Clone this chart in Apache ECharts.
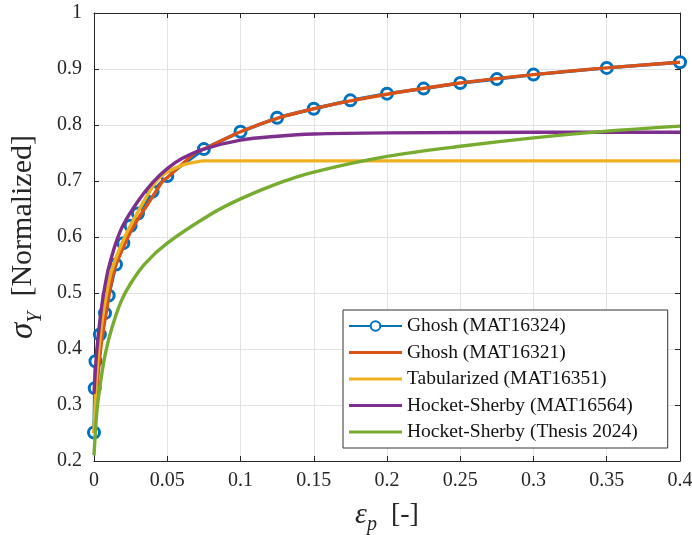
<!DOCTYPE html>
<html>
<head>
<meta charset="utf-8">
<script src="https://cdn.jsdelivr.net/npm/echarts@6/dist/echarts.min.js"></script>
<style>html,body{margin:0;padding:0;background:#fff;}#c{width:692px;height:535px;}</style>
</head>
<body>
<div id="c"></div>
<script>
// Ghosh (MAT16324) markers
const ghoshMarkX = [0, 0.0005, 0.001, 0.004, 0.0075, 0.01, 0.015, 0.02, 0.025, 0.03, 0.04, 0.05, 0.075, 0.1, 0.125, 0.15, 0.175, 0.2, 0.225, 0.25, 0.275, 0.3, 0.35, 0.4];
const ghoshMarkY = [0.251, 0.33, 0.378, 0.426, 0.464, 0.4955, 0.551, 0.589, 0.62, 0.642, 0.681, 0.709, 0.757, 0.788, 0.813, 0.829, 0.844, 0.856, 0.865, 0.875, 0.882, 0.890, 0.902, 0.912];
// Ghosh (MAT16321)
const ghoshLineX = [0, 0.002, 0.005, 0.008, 0.0137, 0.0232, 0.03, 0.04, 0.047, 0.05, 0.069, 0.075, 0.1, 0.125, 0.15, 0.175, 0.2, 0.25, 0.3, 0.35, 0.4];
const ghoshLineY = [0.25, 0.33, 0.41, 0.46, 0.54, 0.60, 0.632, 0.672, 0.70, 0.706, 0.75, 0.757, 0.788, 0.812, 0.829, 0.843, 0.855, 0.875, 0.890, 0.902, 0.912];
// Tabularized (MAT16351)
const tabX = [0, 0.002, 0.005, 0.008, 0.012, 0.021, 0.03, 0.0426, 0.05, 0.06, 0.0688, 0.075, 0.1, 0.2, 0.3, 0.4];
const tabY = [0.25, 0.36, 0.44, 0.49, 0.54, 0.60, 0.645, 0.70, 0.716, 0.728, 0.7336, 0.736, 0.736, 0.736, 0.736, 0.736];
// Hocket-Sherby (MAT16564)
const hsMatX = [0, 0.001, 0.002, 0.004, 0.006, 0.008, 0.01, 0.015, 0.02, 0.03, 0.04, 0.05, 0.06, 0.075, 0.1, 0.125, 0.15, 0.2, 0.3, 0.4];
const hsMatY = [0.32, 0.365, 0.40, 0.45, 0.49, 0.52, 0.545, 0.59, 0.622, 0.664, 0.697, 0.722, 0.740, 0.757, 0.773, 0.780, 0.784, 0.786, 0.787, 0.787];
// Hocket-Sherby (Thesis 2024)
const hsThX = [0, 0.002, 0.005, 0.008, 0.0125, 0.0185, 0.025, 0.035, 0.05, 0.08, 0.1, 0.127, 0.15, 0.2, 0.25, 0.3, 0.35, 0.4];
const hsThY = [0.21, 0.29, 0.35, 0.395, 0.44, 0.485, 0.517, 0.553, 0.589, 0.641, 0.668, 0.697, 0.716, 0.744, 0.762, 0.777, 0.789, 0.798];

const legendNames = ['Ghosh (MAT16324)', 'Ghosh (MAT16321)', 'Tabularized (MAT16351)', 'Hocket-Sherby (MAT16564)', 'Hocket-Sherby (Thesis 2024)'];
const xTicks = {min: 0, max: 0.4, interval: 0.05};
const yTicks = {min: 0.2, max: 1, interval: 0.1};

const zip = (xs, ys) => xs.map((x, i) => [x, ys[i]]);
const FONT = '"Liberation Serif", "Times New Roman", serif';
const AX = '#262626';
// thin horizontal bar inside a 53x12 box for legend line icons
const LINE_ICON = 'path://M0,0 M53,12 M0,4.4 L53,4.4 L53,7.6 L0,7.6 Z';

const chart = echarts.init(document.getElementById('c'), null, {renderer: 'canvas'});
const baseX = {
  type: 'value', min: xTicks.min, max: xTicks.max, interval: xTicks.interval,
  axisLine: {show: true, onZero: false, lineStyle: {color: AX, width: 1}},
  axisTick: {show: true, inside: true, length: 5, lineStyle: {color: AX}},
  splitLine: {show: false}
};
const baseY = {
  type: 'value', min: yTicks.min, max: yTicks.max, interval: yTicks.interval,
  axisLine: {show: true, onZero: false, lineStyle: {color: AX, width: 1}},
  axisTick: {show: true, inside: true, length: 5, lineStyle: {color: AX}},
  splitLine: {show: false}
};
const lineSeries = (name, data, color, z) => ({
  name, type: 'line', data, smooth: 0.3, symbol: 'none', showSymbol: false,
  lineStyle: {color, width: 3.4}, itemStyle: {color}, z, animation: false
});

chart.setOption({
  animation: false,
  grid: {left: 94, right: 12, top: 13, bottom: 74, containLabel: false, outerBoundsMode: 'none'},
  xAxis: [
    Object.assign({}, baseX, {
      position: 'bottom',
      axisLabel: {show: true, color: AX, fontFamily: FONT, fontSize: 20, margin: 10,
        formatter: v => String(+v.toFixed(2))},
      splitLine: {show: true, lineStyle: {color: '#e3e3e3', width: 1}},
      name: '{e|ε}{sub|p}{t|  [-]}', nameLocation: 'middle', nameGap: 37,
      nameTextStyle: {
        fontFamily: FONT, color: AX,
        rich: {
          e: {fontFamily: FONT, fontStyle: 'italic', fontSize: 30, color: AX, lineHeight: 34, verticalAlign: 'middle'},
          sub: {fontFamily: FONT, fontStyle: 'italic', fontSize: 20, color: AX, verticalAlign: 'bottom', lineHeight: 20, padding: [0, 0, -3, 0]},
          t: {fontFamily: FONT, fontSize: 28, color: AX, lineHeight: 34, verticalAlign: 'middle'}
        }
      }
    }),
    Object.assign({}, baseX, {position: 'top', axisLabel: {show: false}})
  ],
  yAxis: [
    Object.assign({}, baseY, {
      position: 'left',
      axisLabel: {show: true, color: AX, fontFamily: FONT, fontSize: 20, margin: 12,
        formatter: v => String(+v.toFixed(1))},
      splitLine: {show: true, lineStyle: {color: '#e3e3e3', width: 1}},
      name: '{s|σ}{sub|Y}{t|  [Normalized]}', nameLocation: 'middle', nameGap: 52, nameRotate: 90,
      nameTextStyle: {
        fontFamily: FONT, color: AX,
        rich: {
          s: {fontFamily: FONT, fontStyle: 'italic', fontSize: 33, color: AX, lineHeight: 34, verticalAlign: 'middle'},
          sub: {fontFamily: FONT, fontStyle: 'italic', fontSize: 20, color: AX, verticalAlign: 'bottom', lineHeight: 20, padding: [0, 0, -6, 0]},
          t: {fontFamily: FONT, fontSize: 30, color: AX, lineHeight: 34, verticalAlign: 'middle'}
        }
      }
    }),
    Object.assign({}, baseY, {position: 'right', axisLabel: {show: false}})
  ],
  legend: {
    orient: 'vertical', left: 343, top: 310,
    data: [
      {name: legendNames[0]},
      {name: legendNames[1], icon: LINE_ICON},
      {name: legendNames[2], icon: LINE_ICON},
      {name: legendNames[3], icon: LINE_ICON},
      {name: legendNames[4], icon: LINE_ICON}
    ],
    itemWidth: 53, itemHeight: 12, itemGap: 6.5,
    padding: [6, 30, 6, 5],
    backgroundColor: '#ffffff', borderColor: '#333333', borderWidth: 1, borderRadius: 0,
    textStyle: {fontFamily: FONT, fontSize: 19.5, color: '#111', lineHeight: 20},
    selectedMode: false
  },
  series: [
    {
      name: legendNames[0], type: 'line', data: zip(ghoshMarkX, ghoshMarkY), smooth: false,
      symbol: 'circle', symbolSize: 11, showSymbol: true,
      lineStyle: {color: '#0072BD', width: 3.4},
      itemStyle: {color: '#ffffff', borderColor: '#0072BD', borderWidth: 3},
      z: 2, animation: false
    },
    lineSeries(legendNames[1], zip(ghoshLineX, ghoshLineY), '#D95319', 3),
    lineSeries(legendNames[2], zip(tabX, tabY), '#EDB120', 4),
    lineSeries(legendNames[3], zip(hsMatX, hsMatY), '#7E2F8E', 5),
    lineSeries(legendNames[4], zip(hsThX, hsThY), '#77AC30', 6)
  ]
});
</script>
</body>
</html>
